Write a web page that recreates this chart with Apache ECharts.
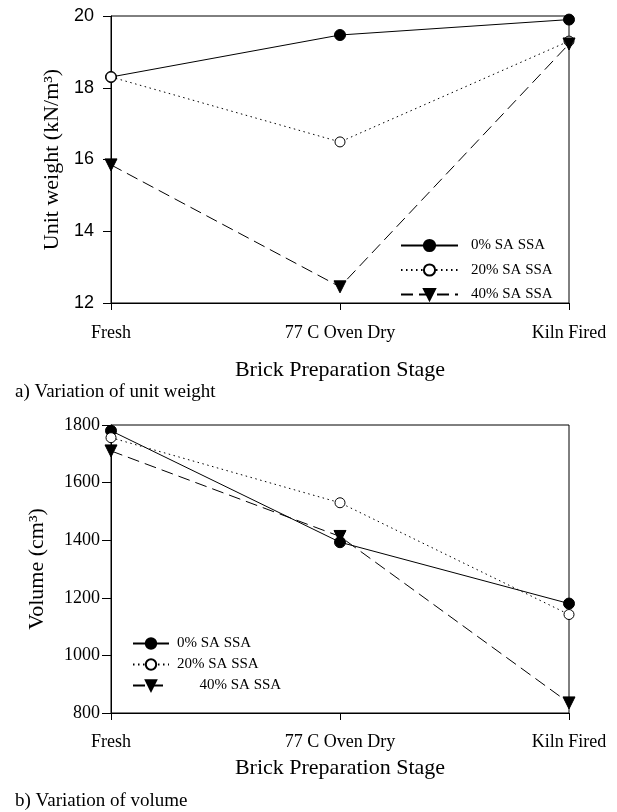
<!DOCTYPE html>
<html><head><meta charset="utf-8">
<script src="https://cdn.jsdelivr.net/npm/echarts@6/dist/echarts.min.js"></script>
<style>html,body{margin:0;padding:0;background:#fff}#c{width:617px;height:812px}</style>
</head><body><div id="c"></div>
<script>
const stages = ['Fresh', '77 C Oven Dry', 'Kiln Fired'];
const seriesNames = ['0% SA SSA', '20% SA SSA', '40% SA SSA'];
const unitWeight0 = [18.3, 19.47, 19.9];
const unitWeight20 = [18.3, 16.49, 19.3];
const unitWeight40 = [15.85, 12.45, 19.22];
const volume0 = [1780, 1393, 1180];
const volume20 = [1756, 1530, 1142];
const volume40 = [1710, 1413, 835];
const uwTicks = {min: 12, max: 20, interval: 2};
const volTicks = {min: 800, max: 1800, interval: 200};

const serif = 'Liberation Serif';
const sans = 'Liberation Sans';
const styles = [
  {symbol: 'circle', symbolSize: 11, itemStyle: {color: '#000', borderColor: '#000', borderWidth: 1}, lineStyle: {color: '#000', width: 1, type: 'solid'}, symbolRotate: 0},
  {symbol: 'circle', symbolSize: 10, itemStyle: {color: '#fff', borderColor: '#000', borderWidth: 1}, lineStyle: {color: '#000', width: 1, type: [1.5, 3.5]}, symbolRotate: 0},
  {symbol: 'triangle', symbolSize: 12, itemStyle: {color: '#000', borderColor: '#000', borderWidth: 1}, lineStyle: {color: '#000', width: 1, type: [12, 6]}, symbolRotate: 180}
];
function mk(name, data, i, idx) {
  return Object.assign({type: 'line', name: name, data: data, xAxisIndex: idx, yAxisIndex: idx, animation: false}, styles[i]);
}
const chart = echarts.init(document.getElementById('c'));
chart.setOption({
  backgroundColor: '#fff',
  animation: false,
  grid: [
    {left: 111, top: 16, width: 458, height: 287, show: true, borderColor: '#000', borderWidth: 1},
    {left: 111, top: 425, width: 458, height: 288, show: true, borderColor: '#000', borderWidth: 1}
  ],
  title: [
    {text: 'a) Variation of unit weight', left: 15, top: 383, padding: 0, textStyle: {fontFamily: serif, fontSize: 19, fontWeight: 'normal', color: '#000'}},
    {text: 'b) Variation of volume', left: 15, top: 792, padding: 0, textStyle: {fontFamily: serif, fontSize: 19, fontWeight: 'normal', color: '#000'}}
  ],
  legend: [
    {data: seriesNames, orient: 'vertical', left: 400, top: 238, padding: 0, itemWidth: 57, itemHeight: 14, itemGap: 9.5,
      textStyle: {fontFamily: serif, fontSize: 15, color: '#000', padding: [0, 0, 0, 8]}, selectedMode: false},
    {data: seriesNames, orient: 'vertical', left: 132, top: 636, padding: 0, itemWidth: 36, itemHeight: 13, itemGap: 6,
      formatter: n => n.indexOf('40') === 0 ? '      ' + n : n,
      textStyle: {fontFamily: serif, fontSize: 15, color: '#000', padding: [0, 0, 0, 3]}, selectedMode: false}
  ],
  xAxis: [0, 1].map(i => ({
    type: 'category', gridIndex: i, data: stages, boundaryGap: false,
    name: 'Brick Preparation Stage', nameLocation: 'middle', nameGap: i === 0 ? 56 : 44,
    nameTextStyle: {fontFamily: serif, fontSize: 22, color: '#000'},
    axisLine: {lineStyle: {color: '#000', width: 1}},
    axisTick: {show: true, length: 7, inside: false, alignWithLabel: true, lineStyle: {color: '#000'}},
    axisLabel: {fontFamily: serif, fontSize: 18, color: '#000', margin: i === 0 ? 21 : 20, interval: 0},
    splitLine: {show: false}
  })),
  yAxis: [
    Object.assign({type: 'value', gridIndex: 0, name: 'Unit weight (kN/m³)', nameLocation: 'middle', nameGap: 47,
      nameTextStyle: {fontFamily: serif, fontSize: 22, color: '#000'},
      axisLine: {show: true, lineStyle: {color: '#000'}},
      axisTick: {show: true, length: 8, lineStyle: {color: '#000'}},
      axisLabel: {fontFamily: sans, fontSize: 18, color: '#000', margin: 17, formatter: v => String(v)},
      splitLine: {show: false}}, uwTicks),
    Object.assign({type: 'value', gridIndex: 1, name: 'Volume (cm³)', nameLocation: 'middle', nameGap: 63,
      nameTextStyle: {fontFamily: serif, fontSize: 22, color: '#000'},
      axisLine: {show: true, lineStyle: {color: '#000'}},
      axisTick: {show: true, length: 9, lineStyle: {color: '#000'}},
      axisLabel: {fontFamily: serif, fontSize: 18, color: '#000', margin: 11, formatter: v => String(v)},
      splitLine: {show: false}}, volTicks)
  ],
  series: [
    mk(seriesNames[0], unitWeight0, 0, 0),
    mk(seriesNames[1], unitWeight20, 1, 0),
    mk(seriesNames[2], unitWeight40, 2, 0),
    mk(seriesNames[0], volume0, 0, 1),
    mk(seriesNames[1], volume20, 1, 1),
    mk(seriesNames[2], volume40, 2, 1)
  ]
});
</script></body></html>
